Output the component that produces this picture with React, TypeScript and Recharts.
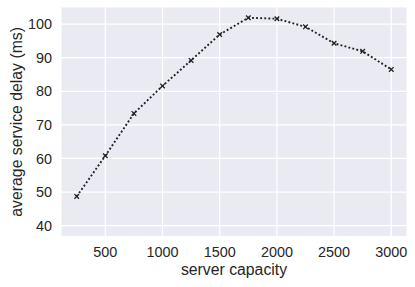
import { CartesianGrid, Line, LineChart, XAxis, YAxis } from 'recharts';

const capacities = [250, 500, 750, 1000, 1250, 1500, 1750, 2000, 2250, 2500, 2750, 3000];
const delays = [48.7, 60.8, 73.4, 81.6, 89.2, 96.9, 101.9, 101.6, 99.2, 94.3, 91.9, 86.5];
const xTicks = [500, 1000, 1500, 2000, 2500, 3000];
const yTicks = [40, 50, 60, 70, 80, 90, 100];

const data = capacities.map((capacity, i) => ({ capacity, delay: delays[i] }));

const FONT = '"Liberation Sans", Arial, sans-serif';
const INK = '#262626';

function Cross(props: any) {
  const { cx, cy, index } = props;
  const s = 2.3;
  return (
    <path
      key={`m-${index}`}
      d={`M${cx - s},${cy - s}L${cx + s},${cy + s}M${cx - s},${cy + s}L${cx + s},${cy - s}`}
      stroke="#222"
      strokeWidth={1.3}
      fill="none"
    />
  );
}

export default function App() {
  return (
    <div style={{ position: 'absolute', left: 0, top: 0, fontFamily: FONT }}>
      <LineChart width={415} height={287} data={data} margin={{ top: 7, right: 8, left: 0, bottom: 0 }}>
        <CartesianGrid fill="#EAEAF2" stroke="#ffffff" strokeWidth={1.2} />
        <XAxis
          dataKey="capacity"
          type="number"
          domain={[112.5, 3137.5]}
          ticks={xTicks}
          allowDataOverflow
          height={50.3}
          axisLine={false}
          tickLine={false}
          tickSize={0}
          tickMargin={10}
          tick={{ fill: INK, fontSize: 14.4, fontFamily: FONT }}
          label={{
            content: ({ viewBox }: any) => (
              <text
                x={viewBox.x + viewBox.width / 2}
                y={275}
                textAnchor="middle"
                fill={INK}
                fontSize={15.8}
                fontFamily={FONT}
              >
                server capacity
              </text>
            ),
          }}
        />
        <YAxis
          type="number"
          domain={[36.7, 105.1]}
          ticks={yTicks}
          allowDataOverflow
          width={61}
          axisLine={false}
          tickLine={false}
          tickSize={0}
          tickMargin={9}
          tick={{ fill: INK, fontSize: 14.4, fontFamily: FONT }}
          label={{
            content: ({ viewBox }: any) => {
              const cy = viewBox.y + viewBox.height / 2;
              return (
                <text
                  x={16.5}
                  y={cy}
                  transform={`rotate(-90, 16.5, ${cy})`}
                  textAnchor="middle"
                  dominantBaseline="central"
                  fill={INK}
                  fontSize={15.8}
                  fontFamily={FONT}
                >
                  average service delay (ms)
                </text>
              );
            },
          }}
        />
        <Line
          dataKey="delay"
          stroke="#222"
          strokeWidth={1.9}
          strokeDasharray="1.9 2.2"
          dot={Cross}
          activeDot={false}
          isAnimationActive={false}
        />
      </LineChart>
    </div>
  );
}
